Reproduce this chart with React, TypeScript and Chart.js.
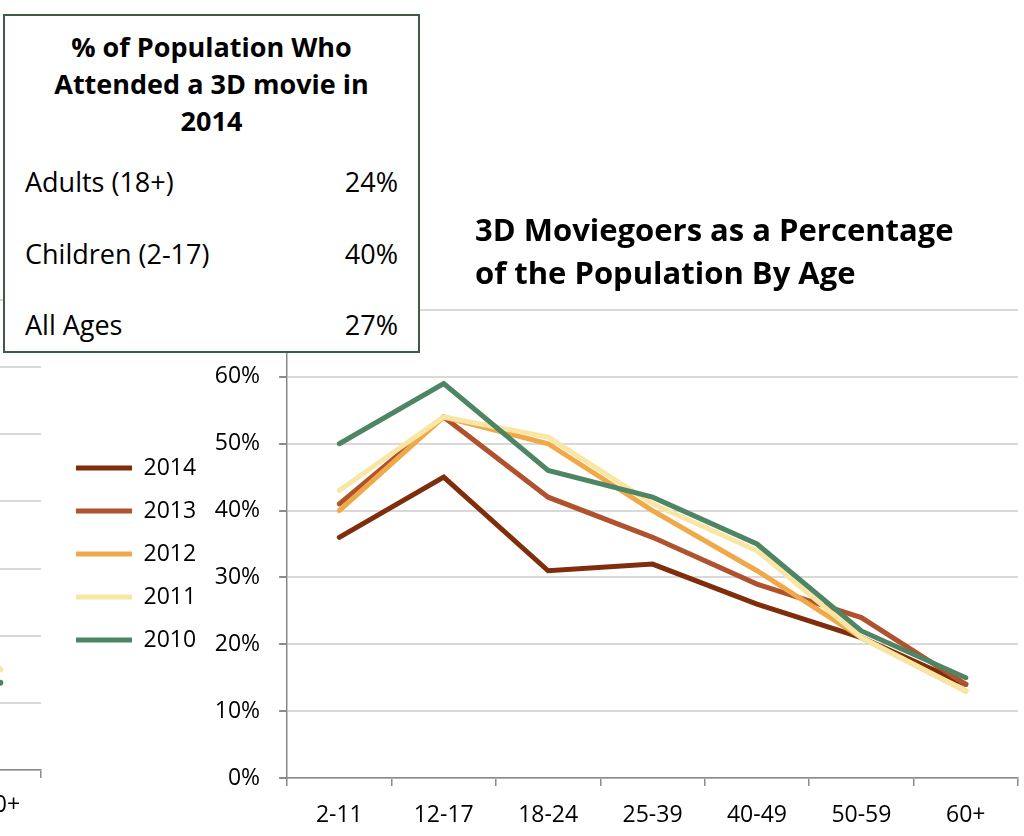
import React, { useEffect, useRef } from "react";
import { Chart, registerables } from "chart.js";

Chart.register(...registerables);

// ---- data ----
const ageGroups = ["2-11", "12-17", "18-24", "25-39", "40-49", "50-59", "60+"];
const years = ["2014", "2013", "2012", "2011", "2010"];
const values2014 = [36, 45, 31, 32, 26, 21, 14];
const values2013 = [41, 54, 42, 36, 29, 24, 14];
const values2012 = [40, 54, 50, 40, 31, 21, 13];
const values2011 = [43, 54, 51, 41, 34, 21, 13];
const values2010 = [50, 59, 46, 42, 35, 22, 15];
const seriesValues = [values2014, values2013, values2012, values2011, values2010];
const seriesColors = ["#7f2d0b", "#b0522e", "#f0a948", "#fae6a4", "#4e8564"];
const yMax = 70;
const yStep = 10;

const mainTitle = ["3D Moviegoers as a Percentage", "of the Population By Age"];
const tableTitle = ["% of Population Who", "Attended a 3D movie in", "2014"];
const tableRows = ["Adults (18+)", "Children (2-17)", "All Ages"];
const tableValues = ["24%", "40%", "27%"];

// remnant of the neighbouring chart on the left edge
const leftLabels = ["40-49", "50-59", "60+"];
const leftYears = ["2011", "2010"];
const left2011 = [null, null, 15];
const left2010 = [null, null, 13];
const leftColors = ["#fae6a4", "#4e8564"];

const FONT = "'Open Sans', Lato, 'DejaVu Sans', sans-serif";
const GRID = "#d9d9d9";
const AXIS = "#8a8a8a";

export default function App() {
  const mainRef = useRef<HTMLCanvasElement | null>(null);
  const leftRef = useRef<HTMLCanvasElement | null>(null);

  useEffect(() => {
    const mainCanvas = mainRef.current!;
    const leftCanvas = leftRef.current!;

    const main = new Chart(mainCanvas, {
      type: "line",
      data: {
        labels: ageGroups,
        datasets: years.map((y, i) => ({
          label: y,
          data: seriesValues[i],
          borderColor: seriesColors[i],
          backgroundColor: seriesColors[i],
          borderWidth: 5,
          borderCapStyle: "round" as const,
          pointRadius: 0,
          tension: 0,
          order: years.length - i,
        })),
      },
      options: {
        responsive: false,
        animation: false,
        layout: { padding: { left: 56, top: 60, right: 6, bottom: 0 } },
        plugins: {
          tooltip: { enabled: false },
          title: { display: false },
          legend: {
            position: "left",
            align: "center",
            fullSize: false,
            title: {
              display: true,
              text: " ",
              font: { size: 10, lineHeight: 1 },
              padding: 5,
            },
            labels: {
              usePointStyle: true,
              pointStyle: "line",
              pointStyleWidth: 56,
              padding: 20,
              color: "#000",
              font: { family: FONT, size: 23 },
              sort: (a: any, b: any) => a.datasetIndex - b.datasetIndex,
            },
          },
        },
        scales: {
          x: {
            type: "category",
            offset: true,
            grid: {
              offset: true,
              drawOnChartArea: false,
              drawTicks: true,
              tickLength: 8,
              color: AXIS,
              tickColor: AXIS,
              lineWidth: 1.5,
            },
            border: { display: true, color: AXIS, width: 1.5 },
            ticks: {
              color: "#000",
              font: { family: FONT, size: 23 },
              padding: 16,
              maxRotation: 0,
              autoSkip: false,
            },
            afterFit: (s: any) => {
              s.height = 58;
            },
          },
          y: {
            min: 0,
            max: yMax,
            ticks: {
              stepSize: yStep,
              color: "#000",
              font: { family: FONT, size: 23 },
              padding: 19,
              callback: (v: any) => `${v}%`,
            },
            grid: {
              color: GRID,
              lineWidth: 2,
              tickLength: 8,
              tickColor: AXIS,
            },
            border: { display: true, color: AXIS, width: 1.5 },
            afterFit: (s: any) => {
              s.width = 81;
            },
          },
        },
      },
    });

    const left = new Chart(leftCanvas, {
      type: "line",
      data: {
        labels: leftLabels,
        datasets: leftYears.map((y, i) => ({
          label: y,
          data: i === 0 ? left2011 : left2010,
          borderColor: leftColors[i],
          backgroundColor: leftColors[i],
          borderWidth: 5,
          pointRadius: 3,
          pointBorderWidth: 0,
          tension: 0,
        })),
      },
      options: {
        responsive: false,
        animation: false,
        layout: { padding: { left: 0, top: 50, right: 2, bottom: 0 } },
        plugins: { legend: { display: false }, tooltip: { enabled: false } },
        scales: {
          x: {
            type: "category",
            offset: true,
            grid: {
              offset: true,
              drawOnChartArea: false,
              tickLength: 8,
              color: AXIS,
              tickColor: AXIS,
              lineWidth: 1.5,
            },
            border: { display: true, color: AXIS, width: 1.5 },
            ticks: {
              color: "#000",
              font: { family: FONT, size: 23 },
              padding: 14,
              maxRotation: 0,
              autoSkip: false,
            },
            afterFit: (s: any) => {
              s.height = 66;
            },
          },
          y: {
            min: 0,
            max: yMax,
            ticks: { display: false, stepSize: yStep },
            grid: { color: GRID, lineWidth: 2, drawTicks: false },
            border: { display: false },
            afterFit: (s: any) => {
              s.width = 97;
            },
          },
        },
      },
    });

    return () => {
      main.destroy();
      left.destroy();
    };
  }, []);

  return (
    <div
      style={{
        position: "fixed",
        left: 0,
        top: 0,
        width: 1024,
        height: 836,
        overflow: "hidden",
        background: "#fff",
        fontFamily: FONT,
        color: "#000",
      }}
    >
      <canvas
        ref={leftRef}
        width={345}
        height={586}
        style={{ position: "absolute", left: -300, top: 250, width: 345, height: 586 }}
      />
      <canvas
        ref={mainRef}
        width={1024}
        height={586}
        style={{ position: "absolute", left: 0, top: 250, width: 1024, height: 586 }}
      />
      <div
        style={{
          position: "absolute",
          left: 475,
          top: 208,
          fontSize: 31,
          fontWeight: 700,
          lineHeight: "43px",
          whiteSpace: "nowrap",
        }}
      >
        {mainTitle.map((t) => (
          <div key={t}>{t}</div>
        ))}
      </div>
      <div
        style={{
          position: "absolute",
          left: 3,
          top: 14,
          width: 417,
          height: 339,
          boxSizing: "border-box",
          border: "2.5px solid #3d5b47",
          background: "#fff",
        }}
      >
        <div
          style={{
            position: "absolute",
            left: 0,
            right: 0,
            top: 12,
            textAlign: "center",
            fontWeight: 700,
            fontSize: 27,
            lineHeight: "37px",
          }}
        >
          {tableTitle.map((t) => (
            <div key={t}>{t}</div>
          ))}
        </div>
        {tableRows.map((r, i) => (
          <div
            key={r}
            style={{
              position: "absolute",
              left: 20,
              right: 20,
              top: 149 + i * 71.5,
              height: 34,
              lineHeight: "34px",
              fontSize: 27,
              display: "flex",
              justifyContent: "space-between",
            }}
          >
            <span>{r}</span>
            <span>{tableValues[i]}</span>
          </div>
        ))}
      </div>
    </div>
  );
}
